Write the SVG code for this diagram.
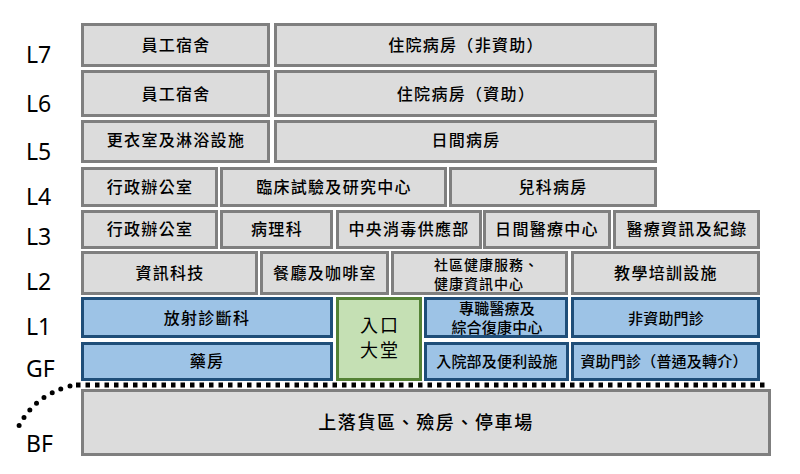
<svg xmlns="http://www.w3.org/2000/svg" width="800" height="474" viewBox="0 0 800 474">
<style>
.g{fill:#dcdcdc;stroke:#7f7f7f;stroke-width:3}
.b{fill:#9dc3e6;stroke:#1f4e79;stroke-width:3}
.e{fill:#c5e0b4;stroke:#548235;stroke-width:3}
.t{font-family:"Noto Sans CJK TC","Noto Sans CJK SC",sans-serif;font-size:16px;font-weight:500;letter-spacing:1.3px;fill:#000;text-anchor:middle}
.s{font-size:15px;letter-spacing:0.2px}
.m{font-size:14px;letter-spacing:1px;text-anchor:start}
.lv{font-family:"Noto Sans","Open Sans",sans-serif;font-size:23px;fill:#000}
</style>
<g id="levels">
<text class="lv" x="26" y="63">L7</text>
<text class="lv" x="26" y="112">L6</text>
<text class="lv" x="26" y="160">L5</text>
<text class="lv" x="26" y="205">L4</text>
<text class="lv" x="26" y="245">L3</text>
<text class="lv" x="26" y="290">L2</text>
<text class="lv" x="26" y="335">L1</text>
<text class="lv" x="26" y="377">GF</text>
<text class="lv" x="26" y="452">BF</text>
</g>
<g id="connectors">
<line x1="76" y1="385" x2="768" y2="385" stroke="#000" stroke-width="5" stroke-dasharray="4.5 5"/>
<path d="M70,386 Q32,396 16,432" fill="none" stroke="#000" stroke-width="5" stroke-linecap="round" stroke-dasharray="0 9.5"/>
</g>
<g id="l7a"><rect class="g" x="82.5" y="24.5" width="186" height="41"/><text class="t" x="176" y="51">員工宿舍</text></g>
<g id="l7b"><rect class="g" x="275.5" y="24.5" width="380" height="41"/><text class="t" x="466" y="51">住院病房（非資助）</text></g>
<g id="l6a"><rect class="g" x="82.5" y="71.5" width="186" height="44"/><text class="t" x="176" y="100">員工宿舍</text></g>
<g id="l6b"><rect class="g" x="275.5" y="71.5" width="380" height="44"/><text class="t" x="466" y="100">住院病房（資助）</text></g>
<g id="l5a"><rect class="g" x="82.5" y="121.5" width="186" height="40"/><text class="t" x="176" y="146">更衣室及淋浴設施</text></g>
<g id="l5b"><rect class="g" x="275.5" y="121.5" width="380" height="40"/><text class="t" x="466" y="146">日間病房</text></g>
<g id="l4a"><rect class="g" x="82.5" y="168.5" width="134" height="37"/><text class="t" x="150" y="193">行政辦公室</text></g>
<g id="l4b"><rect class="g" x="221.5" y="168.5" width="224" height="37"/><text class="t" x="334" y="193">臨床試驗及研究中心</text></g>
<g id="l4c"><rect class="g" x="450.5" y="168.5" width="205" height="37"/><text class="t" x="553" y="193">兒科病房</text></g>
<g id="l3a"><rect class="g" x="82.5" y="211.5" width="134" height="36"/><text class="t" x="150" y="235">行政辦公室</text></g>
<g id="l3b"><rect class="g" x="221.5" y="211.5" width="110" height="36"/><text class="t" x="277" y="235">病理科</text></g>
<g id="l3c"><rect class="g" x="337.5" y="211.5" width="143" height="36"/><text class="t" x="409" y="235">中央消毒供應部</text></g>
<g id="l3d"><rect class="g" x="484.5" y="211.5" width="125" height="36"/><text class="t" x="547" y="235">日間醫療中心</text></g>
<g id="l3e"><rect class="g" x="614.5" y="211.5" width="144" height="36"/><text class="t" x="687" y="235">醫療資訊及紀錄</text></g>
<g id="l2a"><rect class="g" x="82.5" y="252.5" width="174" height="41"/><text class="t" x="170" y="279">資訊科技</text></g>
<g id="l2b"><rect class="g" x="261.5" y="252.5" width="126" height="41"/><text class="t" x="325" y="279">餐廳及咖啡室</text></g>
<g id="l2c"><rect class="g" x="392.5" y="252.5" width="174" height="41"/><text class="t m" x="434" y="270">社區健康服務、</text><text class="t m" x="434" y="289">健康資訊中心</text></g>
<g id="l2d"><rect class="g" x="572.5" y="252.5" width="186" height="41"/><text class="t" x="666" y="279">教學培訓設施</text></g>
<g id="l1a"><rect class="b" x="82.5" y="298.5" width="249" height="38"/><text class="t" x="207" y="324">放射診斷科</text></g>
<g id="lobby"><rect class="e" x="337.5" y="298.5" width="83" height="81"/><text class="t" x="380" y="332" style="font-size:18px;font-weight:400;letter-spacing:2px">入口</text><text class="t" x="380" y="357" style="font-size:18px;font-weight:400;letter-spacing:2px">大堂</text></g>
<g id="l1c"><rect class="b" x="425.5" y="298.5" width="141" height="38"/><text class="t s" x="497" y="314">專職醫療及</text><text class="t s" x="497" y="333">綜合復康中心</text></g>
<g id="l1d"><rect class="b" x="572.5" y="298.5" width="186" height="38"/><text class="t s" x="666" y="324">非資助門診</text></g>
<g id="gfa"><rect class="b" x="82.5" y="343.5" width="249" height="36"/><text class="t" x="207" y="367">藥房</text></g>
<g id="gfc"><rect class="b" x="425.5" y="343.5" width="142" height="36"/><text class="t s" x="497" y="367">入院部及便利設施</text></g>
<g id="gfd"><rect class="b" x="572.5" y="343.5" width="186" height="36"/><text class="t s" x="664" y="367">資助門診（普通及轉介）</text></g>
<g id="bf"><rect class="g" x="82.5" y="390.5" width="687" height="64"/><text class="t" x="426" y="429" style="font-size:18px;letter-spacing:1.6px">上落貨區、殮房、停車場</text></g>
</svg>
